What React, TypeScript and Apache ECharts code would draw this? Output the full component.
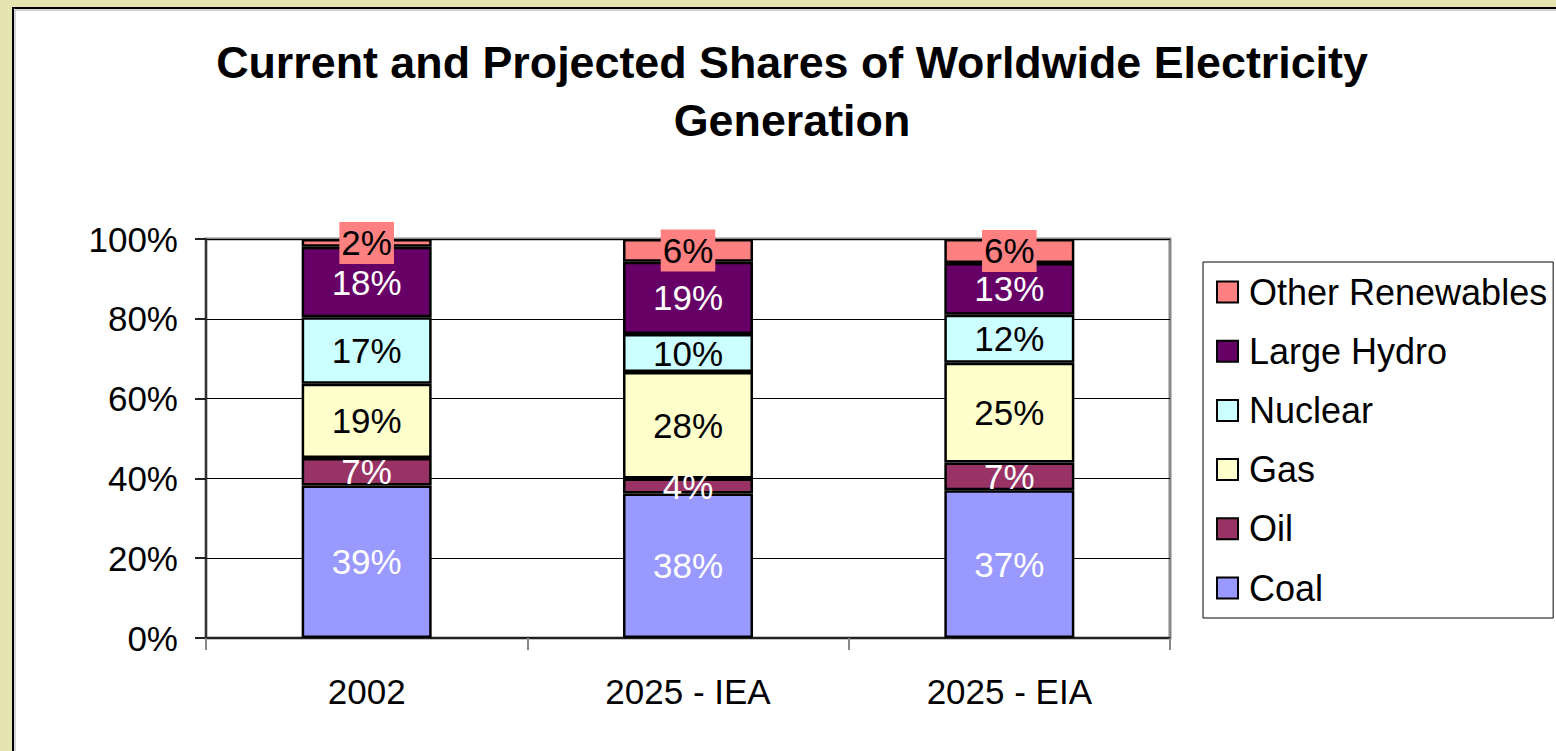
import React, { useEffect, useRef } from "react";
import * as echarts from "echarts";

const categories = ["2002", "2025 - IEA", "2025 - EIA"];
const coal = [39, 38, 37];
const oil = [7, 4, 7];
const gas = [19, 28, 25];
const nuclear = [17, 10, 12];
const largeHydro = [18, 19, 13];
const otherRenewables = [2, 6, 6];
const yTicks = [0, 20, 40, 60, 80, 100];

const seriesDefs = [
  { name: "Coal", values: coal, color: "#9999FF", text: "#FFFFFF" },
  { name: "Oil", values: oil, color: "#993366", text: "#FFFFFF" },
  { name: "Gas", values: gas, color: "#FFFFCC", text: "#000000" },
  { name: "Nuclear", values: nuclear, color: "#CCFFFF", text: "#000000" },
  { name: "Large Hydro", values: largeHydro, color: "#660066", text: "#FFFFFF" },
  { name: "Other Renewables", values: otherRenewables, color: "#FF8080", text: "#000000", bg: true },
];

const FONT = "'Liberation Sans', Arial, sans-serif";

export default function App() {
  const ref = useRef<HTMLDivElement>(null);
  useEffect(() => {
    if (!ref.current) return;
    const chart = echarts.init(ref.current, null, { renderer: "svg" });
    const totals = categories.map((_, i) =>
      seriesDefs.reduce((s, d) => s + d.values[i], 0)
    );
    const series = seriesDefs.map((d) => ({
      name: d.name,
      type: "bar",
      stack: "total",
      barWidth: 130,
      itemStyle: { color: d.color, borderColor: "#000", borderWidth: 2.5 },
      label: {
        show: true,
        position: "inside",
        color: d.text,
        fontSize: 35,
        fontFamily: FONT,
        formatter: (p: any) => `${d.values[p.dataIndex]}%`,
        ...(d.bg ? { backgroundColor: d.color, padding: [4, 2, 3, 2] } : {}),
      },
      data: d.values.map((v, i) => ({ value: (v / totals[i]) * 100 })),
    }));
    chart.setOption({
      animation: false,
      backgroundColor: "#E6E4B0",
      textStyle: { fontFamily: FONT },
      graphic: [
        {
          type: "rect",
          z: -10,
          shape: { x: 13, y: 8, width: 1600, height: 800 },
          style: { fill: "#FFFFFF", stroke: "#000", lineWidth: 2 },
        },
        {
          type: "polyline",
          z: -9,
          shape: { points: [[15, 800], [15, 10], [1600, 10]] },
          style: { fill: null, stroke: "#AAAAAA", lineWidth: 1 },
        },
        {
          type: "text",
          z: 10,
          x: 792,
          y: 62,
          style: {
            text: "Current and Projected Shares of Worldwide Electricity",
            font: `bold 44.8px ${FONT}`,
            fill: "#000",
            align: "center",
            verticalAlign: "middle",
          },
        },
        {
          type: "text",
          z: 10,
          x: 792,
          y: 120,
          style: {
            text: "Generation",
            font: `bold 44.8px ${FONT}`,
            fill: "#000",
            align: "center",
            verticalAlign: "middle",
          },
        },
      ],
      legend: {
        orient: "vertical",
        left: 1203,
        top: 262,
        data: [...seriesDefs].reverse().map((d) => d.name),
        icon: "rect",
        itemWidth: 21,
        itemHeight: 21,
        itemGap: 23.2,
        itemStyle: { borderColor: "#000", borderWidth: 2 },
        padding: [12, 6, 12, 13],
        borderColor: "#000",
        borderWidth: 1,
        backgroundColor: "#FFFFFF",
        textStyle: {
          fontSize: 36,
          lineHeight: 36,
          color: "#000",
          fontFamily: FONT,
          padding: [0, 0, 0, 6],
        },
      },
      grid: {
        left: 206,
        top: 239,
        right: 386,
        bottom: 113,
        show: true,
        borderColor: "#888888",
        borderWidth: 3,
      },
      xAxis: {
        type: "category",
        data: categories,
        axisLine: { lineStyle: { color: "#222", width: 2 } },
        axisTick: { show: true, alignWithLabel: false, length: 12, lineStyle: { color: "#888", width: 2 } },
        axisLabel: { fontSize: 35, color: "#000", margin: 36, fontFamily: FONT },
        splitLine: { show: false },
      },
      yAxis: {
        type: "value",
        min: yTicks[0],
        max: yTicks[yTicks.length - 1],
        interval: yTicks[1] - yTicks[0],
        axisLine: { show: true, lineStyle: { color: "#333", width: 2 } },
        axisTick: { show: true, length: 11, lineStyle: { color: "#222", width: 2 } },
        axisLabel: { fontSize: 35, color: "#000", margin: 28, fontFamily: FONT, formatter: "{value}%" },
        splitLine: { show: true, lineStyle: { color: "#000", width: 1 } },
      },
      series,
    });
    return () => chart.dispose();
  }, []);
  return (
    <div
      ref={ref}
      style={{ position: "fixed", left: 0, top: 0, width: 1556, height: 751 }}
    />
  );
}
